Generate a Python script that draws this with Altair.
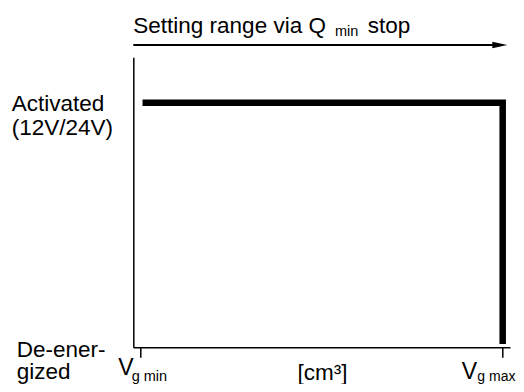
import altair as alt
import pandas as pd

# ---- data (diagram units: V_g min = 0, V_g max = 1; de-energized = 0, activated = 1)
step_x = [0.005, 1.0, 1.0]
step_y = [1.0, 1.0, 0.013]
step_order = [0, 1, 2]

x_tick_values = [0, 1]

title_main = "Setting range via Q"
title_sub = "min"
title_end = "stop"
label_activated = "Activated\n(12V/24V)"
label_deenergized = "De-ener-\ngized"
label_v = "V"
label_vmin_sub = "g min"
label_vmax_sub = "g max"
label_unit = "[cm³]"

FONT = "Liberation Sans, Arial, Helvetica"

step_df = pd.DataFrame({"x": step_x, "y": step_y, "o": step_order})

xscale = alt.Scale(domain=[-0.02044, 1.0202], nice=False, zero=False)
yscale = alt.Scale(domain=[0, 1.1856], nice=False, zero=False)

line = alt.Chart(step_df).mark_line(
    color="black", strokeWidth=6.5, strokeCap="butt", strokeJoin="miter"
).encode(
    x=alt.X("x:Q", scale=xscale, axis=alt.Axis(
        values=x_tick_values, labels=False, ticks=True, tickSize=10,
        tickWidth=1.5, tickColor="black", domainColor="black",
        domainWidth=1.5, grid=False, title="")),
    y=alt.Y("y:Q", scale=yscale, axis=alt.Axis(
        labels=False, ticks=False, domainColor="black", domainWidth=1.5,
        grid=False, title="")),
    order="o:Q",
)


def txt(s, x, y, size, align="left", line_height=None):
    kw = dict(font=FONT, fontSize=size, color="black", align=align,
              baseline="alphabetic")
    if line_height is not None:
        kw["lineBreak"] = "\n"
        kw["lineHeight"] = line_height
    return alt.Chart(pd.DataFrame({"t": [s]})).mark_text(**kw).encode(
        text="t:N", x=alt.value(x), y=alt.value(y))


layers = [
    line,
    # arrow above the plot
    alt.Chart(pd.DataFrame({"a": [0]})).mark_rule(color="black", strokeWidth=1.8).encode(
        x=alt.value(0), x2=alt.value(362), y=alt.value(-12.3)),
    alt.Chart(pd.DataFrame({"a": [0]})).mark_point(
        shape="M -1 -0.42 L 1 0 L -1 0.42 Z", filled=True, color="black",
        opacity=1, size=225, strokeWidth=0).encode(
        x=alt.value(366.5), y=alt.value(-12.3)),
    txt(title_main, 0, -24, 22.5),
    txt(title_sub, 201.7, -21.6, 14.5),
    txt(title_end, 234.4, -24, 22.5),
    txt(label_activated, -121.6, 54, 22.5, line_height=23.5),
    txt(label_deenergized, -116.6, 299.5, 22.5, line_height=22.7),
    txt(label_v, -15, 317.7, 23),
    txt(label_vmin_sub, -1.6, 323.2, 14.5),
    txt(label_v, 328.4, 321.4, 23),
    txt(label_vmax_sub, 344, 323.7, 14),
    txt(label_unit, 189.2, 322.2, 22.5, align="center"),
]

chart = alt.layer(*layers).properties(
    width=376.7, height=290, autosize="none",
    padding={"left": 125.3, "top": 49.3, "right": 6, "bottom": 36.7},
    background="white",
).configure_view(stroke="transparent")

chart.save("out.html", embed_options={"renderer": "svg", "actions": False})
